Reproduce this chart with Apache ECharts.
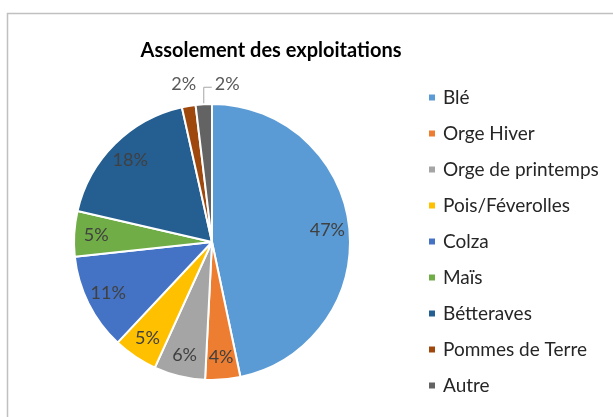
<!DOCTYPE html>
<html>
<head>
<meta charset="utf-8">
<script src="https://cdn.jsdelivr.net/npm/echarts@6/dist/echarts.min.js"></script>
<style>
  html, body { margin: 0; padding: 0; background: #fff; }
  #chart { width: 613px; height: 417px; }
</style>
</head>
<body>
<div id="chart"></div>
<script>
// parts of the rotation (share of the area, %)
const cropNames = ['Blé', 'Orge Hiver', 'Orge de printemps', 'Pois/Féverolles', 'Colza', 'Maïs', 'Bétteraves', 'Pommes de Terre', 'Autre'];
const cropShares = [46.7, 4.1, 6.0, 5.2, 11.3, 5.3, 17.9, 1.6, 1.9];
const cropColors = ['#5B9BD5', '#ED7D31', '#A5A5A5', '#FFC000', '#4472C4', '#70AD47', '#255E91', '#9E480E', '#636363'];
const outsideLabels = ['Pommes de Terre', 'Autre'];

const FONT = 'Lato, "Open Sans", sans-serif';
const CX = 212, CY = 242, R = 138;
const chart = echarts.init(document.getElementById('chart'));

const pct = p => Math.round(p.value) + '%';
const total = cropShares.reduce((a, b) => a + b, 0);

// point on the rim at the middle of a slice (clockwise from 12 o'clock)
function rimPoint(i) {
  let before = 0;
  for (let k = 0; k < i; k++) before += cropShares[k];
  const a = (before + cropShares[i] / 2) / total * Math.PI * 2;
  return [CX + R * Math.sin(a), CY - R * Math.cos(a)];
}

const mainData = cropNames.map((name, i) => ({
  name,
  value: cropShares[i],
  itemStyle: { color: cropColors[i] },
  label: { show: outsideLabels.includes(name) },
  labelLine: { show: name === 'Autre' }
}));

// transparent ring only used to put the inner labels near the rim
const labelData = cropNames.map((name, i) => ({
  name,
  value: cropShares[i],
  label: { show: !outsideLabels.includes(name) }
}));

chart.setOption({
  animation: false,
  graphic: [{
    type: 'rect',
    shape: { x: 7.5, y: 13.5, width: 700, height: 500 },
    style: { fill: 'none', stroke: '#c0c0c0', lineWidth: 1.5 },
    silent: true
  }],
  title: {
    text: 'Assolement des exploitations',
    left: 266,
    textAlign: 'center',
    top: 36,
    textStyle: { fontFamily: FONT, fontSize: 20, fontWeight: 'bold', color: '#000' }
  },
  legend: {
    data: cropNames,
    orient: 'vertical',
    left: 427,
    top: 88,
    padding: 0,
    icon: 'rect',
    itemWidth: 8,
    itemHeight: 8,
    itemGap: 17,
    textStyle: { fontFamily: FONT, fontSize: 19, color: '#262626', lineHeight: 19, padding: [0, 0, 0, 2] }
  },
  series: [
    {
      type: 'pie',
      center: [CX, CY],
      radius: [0, R],
      startAngle: 90,
      clockwise: true,
      data: mainData,
      itemStyle: { borderColor: '#fff', borderWidth: 2 },
      label: {
        position: 'outside',
        formatter: pct,
        fontFamily: FONT,
        fontSize: 18,
        color: '#595959'
      },
      labelLine: { lineStyle: { color: '#a6a6a6', width: 1 }, length: 8, length2: 8 },
      labelLayout: function (params) {
        const name = cropNames[params.dataIndex];
        if (!outsideLabels.includes(name)) return {};
        const p = rimPoint(params.dataIndex);
        if (name === 'Autre') {
          const ly = p[1] - 17;
          return {
            x: p[0] + 11,
            y: ly - 3,
            align: 'left',
            verticalAlign: 'middle',
            labelLinePoints: [[p[0], p[1]], [p[0], ly], [p[0] + 8, ly]]
          };
        }
        return {
          x: p[0] - 5,
          y: p[1] - 22,
          align: 'center',
          verticalAlign: 'middle'
        };
      },
      emphasis: { disabled: true }
    },
    {
      type: 'pie',
      center: [CX, CY],
      radius: [88, R],
      startAngle: 90,
      clockwise: true,
      silent: true,
      data: labelData,
      itemStyle: { color: 'rgba(0,0,0,0)' },
      label: {
        position: 'inside',
        formatter: pct,
        fontFamily: FONT,
        fontSize: 18,
        color: '#404040'
      },
      labelLine: { show: false },
      emphasis: { disabled: true },
      tooltip: { show: false }
    }
  ]
});
</script>
</body>
</html>
